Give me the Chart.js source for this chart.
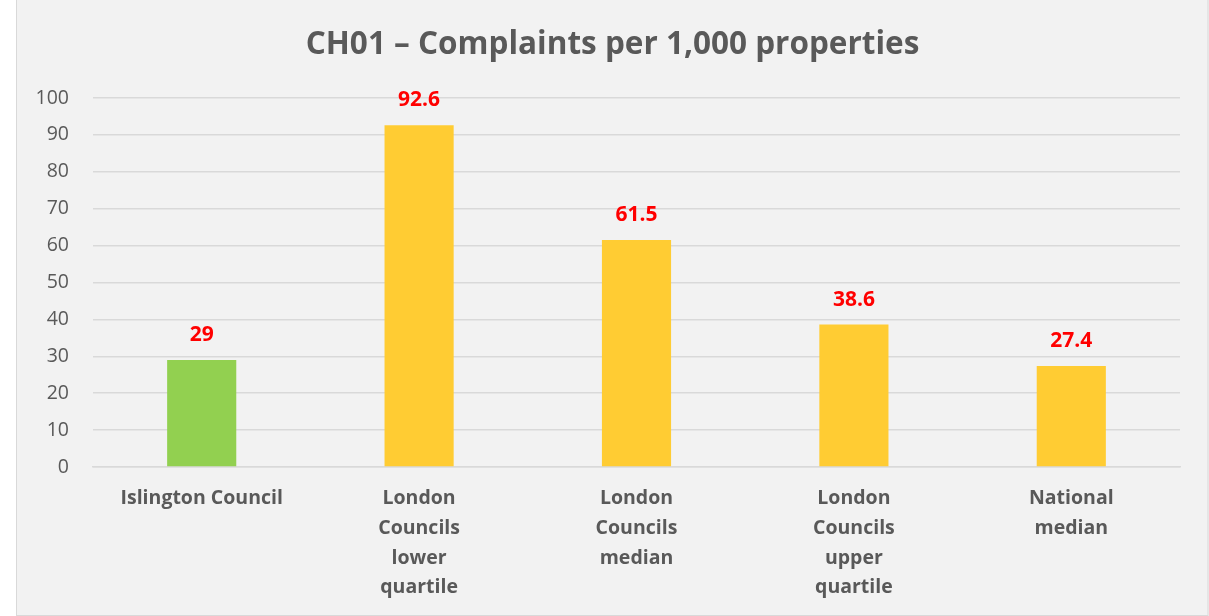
<!DOCTYPE html>
<html>
<head>
<meta charset="utf-8">
<script src="https://cdn.jsdelivr.net/npm/chart.js@4/dist/chart.umd.min.js"></script>
<style>
html,body{margin:0;padding:0;background:#fff;}
#wrap{position:absolute;left:0;top:0;width:1209px;height:616px;}
</style>
</head>
<body>
<div id="wrap"><canvas id="c"></canvas></div>
<script>
const categories = [
  ["Islington Council"],
  ["London", "Councils", "lower", "quartile"],
  ["London", "Councils", "median"],
  ["London", "Councils", "upper", "quartile"],
  ["National", "median"]
];
const values = [29, 92.6, 61.5, 38.6, 27.4];
const barColors = ["#92D050", "#FFCC33", "#FFCC33", "#FFCC33", "#FFCC33"];
const yTicks = [0, 10, 20, 30, 40, 50, 60, 70, 80, 90, 100];
const titleText = "CH01 \u2013 Complaints per 1,000 properties";

const FONT = "'Open Sans', sans-serif";

const bgPlugin = {
  id: 'bg',
  beforeDraw(chart) {
    const ctx = chart.ctx;
    ctx.save();
    ctx.fillStyle = '#F2F2F2';
    ctx.fillRect(16, 0, 1193, 616);
    ctx.strokeStyle = '#D9D9D9';
    ctx.lineWidth = 1;
    ctx.strokeRect(16.5, -1, 1191.5, 616.5);
    ctx.fillStyle = '#595959';
    ctx.font = "bold 31.5px " + FONT;
    ctx.textAlign = 'center';
    ctx.textBaseline = 'middle';
    ctx.fillText(titleText, 612.5, 45);
    ctx.restore();
  }
};

const labelPlugin = {
  id: 'vlabels',
  afterDatasetsDraw(chart) {
    const ctx = chart.ctx;
    const meta = chart.getDatasetMeta(0);
    ctx.save();
    ctx.fillStyle = '#FF0000';
    ctx.font = "bold 21px " + FONT;
    ctx.textAlign = 'center';
    ctx.textBaseline = 'middle';
    meta.data.forEach((bar, i) => {
      ctx.fillText(String(values[i]), bar.x, bar.y - 25);
    });
    ctx.restore();
  }
};

new Chart(document.getElementById('c'), {
  type: 'bar',
  data: {
    labels: categories,
    datasets: [{
      data: values,
      backgroundColor: barColors,
      barPercentage: 0.318,
      categoryPercentage: 1.0
    }]
  },
  options: {
    responsive: true,
    maintainAspectRatio: false,
    animation: false,
    layout: { padding: { left: 17, right: 29, top: 98, bottom: 0 } },
    plugins: {
      legend: { display: false },
      tooltip: { enabled: false },
      title: { display: false }
    },
    scales: {
      x: {
        grid: { display: false, drawTicks: false },
        border: { display: true, color: '#D9D9D9', width: 1.5 },
        ticks: {
          color: '#595959',
          font: { family: FONT, size: 19.5, weight: 'bold', lineHeight: 1.52 },
          padding: 17,
          maxRotation: 0,
          autoSkip: false
        },
        afterFit(scale) { scale.height = 149; }
      },
      y: {
        min: 0,
        max: 100,
        afterBuildTicks(scale) { scale.ticks = yTicks.map(v => ({ value: v })); },
        grid: { color: '#D9D9D9', lineWidth: 1.5, drawTicks: false },
        border: { display: false },
        ticks: {
          color: '#595959',
          font: { family: FONT, size: 19.5 },
          padding: 24
        },
        afterFit(scale) { scale.width = 76; }
      }
    }
  },
  plugins: [bgPlugin, labelPlugin]
});
</script>
</body>
</html>
